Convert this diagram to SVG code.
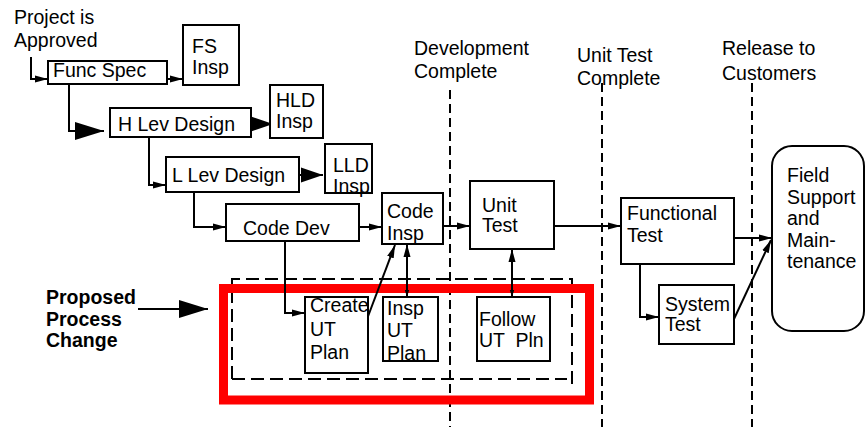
<svg xmlns="http://www.w3.org/2000/svg" width="867" height="427" viewBox="0 0 867 427">
  <style>
    text { font-family: "Liberation Sans", Arial, sans-serif; font-size: 19.5px; fill: #000; }
    .bold { font-weight: bold; }
    .box { fill: #fff; stroke: #000; stroke-width: 2; }
    .conn { fill: none; stroke: #000; stroke-width: 2; }
    .mile { fill: none; stroke: #000; stroke-width: 2; stroke-dasharray: 9 5; }
    .group { fill: none; stroke: #000; stroke-width: 2; stroke-dasharray: 13 6; }
    .focus { fill: none; stroke: #ff0000; stroke-width: 9; }
    .pre { white-space: pre; }
  </style>
  <defs>
    <marker id="xs" markerUnits="userSpaceOnUse" markerWidth="8" markerHeight="6" refX="7" refY="3" orient="auto-start-reverse">
      <path d="M0,0.8 L7,3 L0,5.2 z" fill="#000"/>
    </marker>
    <marker id="sm" markerUnits="userSpaceOnUse" markerWidth="14" markerHeight="8" refX="13" refY="4" orient="auto-start-reverse">
      <path d="M0,0.5 L13,4 L0,7.5 z" fill="#000"/>
    </marker>
    <marker id="lg" markerUnits="userSpaceOnUse" markerWidth="23" markerHeight="16" refX="22" refY="8" orient="auto">
      <path d="M0,0.5 L22,8 L0,15.5 z" fill="#000"/>
    </marker>
    <marker id="xl" markerUnits="userSpaceOnUse" markerWidth="30" markerHeight="20" refX="29" refY="10" orient="auto">
      <path d="M0,1 L29,10 L0,19 z" fill="#000"/>
    </marker>
  </defs>

  <!-- milestone lines -->
  <g id="milestones">
    <line class="mile" x1="450" y1="90" x2="450" y2="427"/>
    <line class="mile" x1="602" y1="83" x2="602" y2="427"/>
    <line class="mile" x1="752" y1="83" x2="752" y2="427"/>
    <text x="414" y="55">Development</text>
    <text x="414" y="78">Complete</text>
    <text x="577" y="62">Unit Test</text>
    <text x="577" y="85">Complete</text>
    <text x="722" y="55">Release to</text>
    <text x="722" y="80">Customers</text>
  </g>

  <!-- proposed change area -->
  <g id="proposed-area">
    <path class="group" d="M232,379 V279 H572 V387 M232,379 H567"/>
    <rect class="focus" x="223.5" y="288.5" width="366" height="111.5"/>
  </g>

  <g id="start-label">
    <text x="14" y="24">Project is</text>
    <text x="14" y="47">Approved</text>
  </g>

  <g id="proposed-label">
    <text class="bold" x="46" y="304">Proposed</text>
    <text class="bold" x="46" y="326">Process</text>
    <text class="bold" x="46" y="347">Change</text>
  </g>

  <!-- connectors -->
  <g id="connectors">
    <path class="conn" d="M31,57 V79 H48" marker-end="url(#sm)"/>
    <path class="conn" d="M167,79 H183" marker-end="url(#sm)"/>
    <path class="conn" d="M69,84 V131 H104" marker-end="url(#xl)"/>
    <path class="conn" d="M251,124 H273" marker-end="url(#lg)"/>
    <path class="conn" d="M149,137 V185 H166" marker-end="url(#sm)"/>
    <path class="conn" d="M299,175 H323" marker-end="url(#lg)"/>
    <path class="conn" d="M194,192 V227 H226" marker-end="url(#sm)"/>
    <path class="conn" d="M359,227 H382" marker-end="url(#sm)"/>
    <path class="conn" d="M443,226 H470" marker-end="url(#sm)"/>
    <path class="conn" d="M554,226 H621" marker-end="url(#sm)"/>
    <path class="conn" d="M640,264 V317 H659" marker-end="url(#sm)"/>
    <path class="conn" d="M734,238 H772" marker-end="url(#sm)"/>
    <path class="conn" d="M734,319 L771,240" marker-end="url(#sm)"/>
    <path class="conn" d="M285,241 V313 H305" marker-end="url(#sm)"/>
    <path class="conn" d="M367,319 L395,245" marker-end="url(#sm)"/>
    <path class="conn" d="M407,297 V244" marker-start="url(#xs)" marker-end="url(#sm)"/>
    <path class="conn" d="M512,297 V249" marker-start="url(#xs)" marker-end="url(#sm)"/>
    <path class="conn" d="M138,309 H208" marker-end="url(#xl)"/>
  </g>

  <!-- process steps -->
  <g id="func-spec">
    <rect class="box" x="48" y="61" width="119" height="23"/>
    <text x="53" y="77">Func Spec</text>
  </g>
  <g id="fs-insp">
    <rect class="box" x="183" y="25" width="56" height="60"/>
    <text x="192" y="53">FS</text>
    <text x="192" y="74">Insp</text>
  </g>
  <g id="h-lev-design">
    <rect class="box" x="110" y="108" width="141" height="29"/>
    <text x="118" y="131">H Lev Design</text>
  </g>
  <g id="hld-insp">
    <rect class="box" x="270" y="85" width="53" height="53"/>
    <text x="276" y="107">HLD</text>
    <text x="276" y="128">Insp</text>
  </g>
  <g id="l-lev-design">
    <rect class="box" x="166" y="157" width="133" height="35"/>
    <text x="172" y="182">L Lev Design</text>
  </g>
  <g id="lld-insp">
    <rect class="box" x="325" y="144" width="47" height="49"/>
    <text x="333" y="172">LLD</text>
    <text x="333" y="193">Insp</text>
  </g>
  <g id="code-dev">
    <rect class="box" x="226" y="204" width="133" height="37"/>
    <text x="243" y="235">Code Dev</text>
  </g>
  <g id="code-insp">
    <rect class="box" x="382" y="193" width="61" height="51"/>
    <text x="387" y="218">Code</text>
    <text x="387" y="240">Insp</text>
  </g>
  <g id="unit-test">
    <rect class="box" x="470" y="181" width="84" height="68"/>
    <text x="482" y="212">Unit</text>
    <text x="482" y="232">Test</text>
  </g>
  <g id="functional-test">
    <rect class="box" x="621" y="198" width="113" height="66"/>
    <text x="627" y="220">Functional</text>
    <text x="627" y="242">Test</text>
  </g>
  <g id="system-test">
    <rect class="box" x="659" y="285" width="75" height="59"/>
    <text x="665" y="311">System</text>
    <text x="665" y="331">Test</text>
  </g>
  <g id="field-support">
    <rect class="box" x="772" y="146" width="92" height="185" rx="20" ry="20"/>
    <text x="787" y="182">Field</text>
    <text x="787" y="204">Support</text>
    <text x="787" y="225">and</text>
    <text x="787" y="247">Main-</text>
    <text x="787" y="268">tenance</text>
  </g>
  <g id="create-ut-plan">
    <rect class="box" x="305" y="297" width="63" height="76"/>
    <text x="310" y="312">Create</text>
    <text x="310" y="336">UT</text>
    <text x="310" y="359">Plan</text>
  </g>
  <g id="insp-ut-plan">
    <rect class="box" x="383" y="297" width="55" height="64"/>
    <text x="387" y="315">Insp</text>
    <text x="387" y="337">UT</text>
    <text x="387" y="360">Plan</text>
  </g>
  <g id="follow-ut-pln">
    <rect class="box" x="477" y="297" width="73" height="64"/>
    <text x="479" y="326">Follow</text>
    <text class="pre" x="479" y="347">UT  Pln</text>
  </g>
</svg>
